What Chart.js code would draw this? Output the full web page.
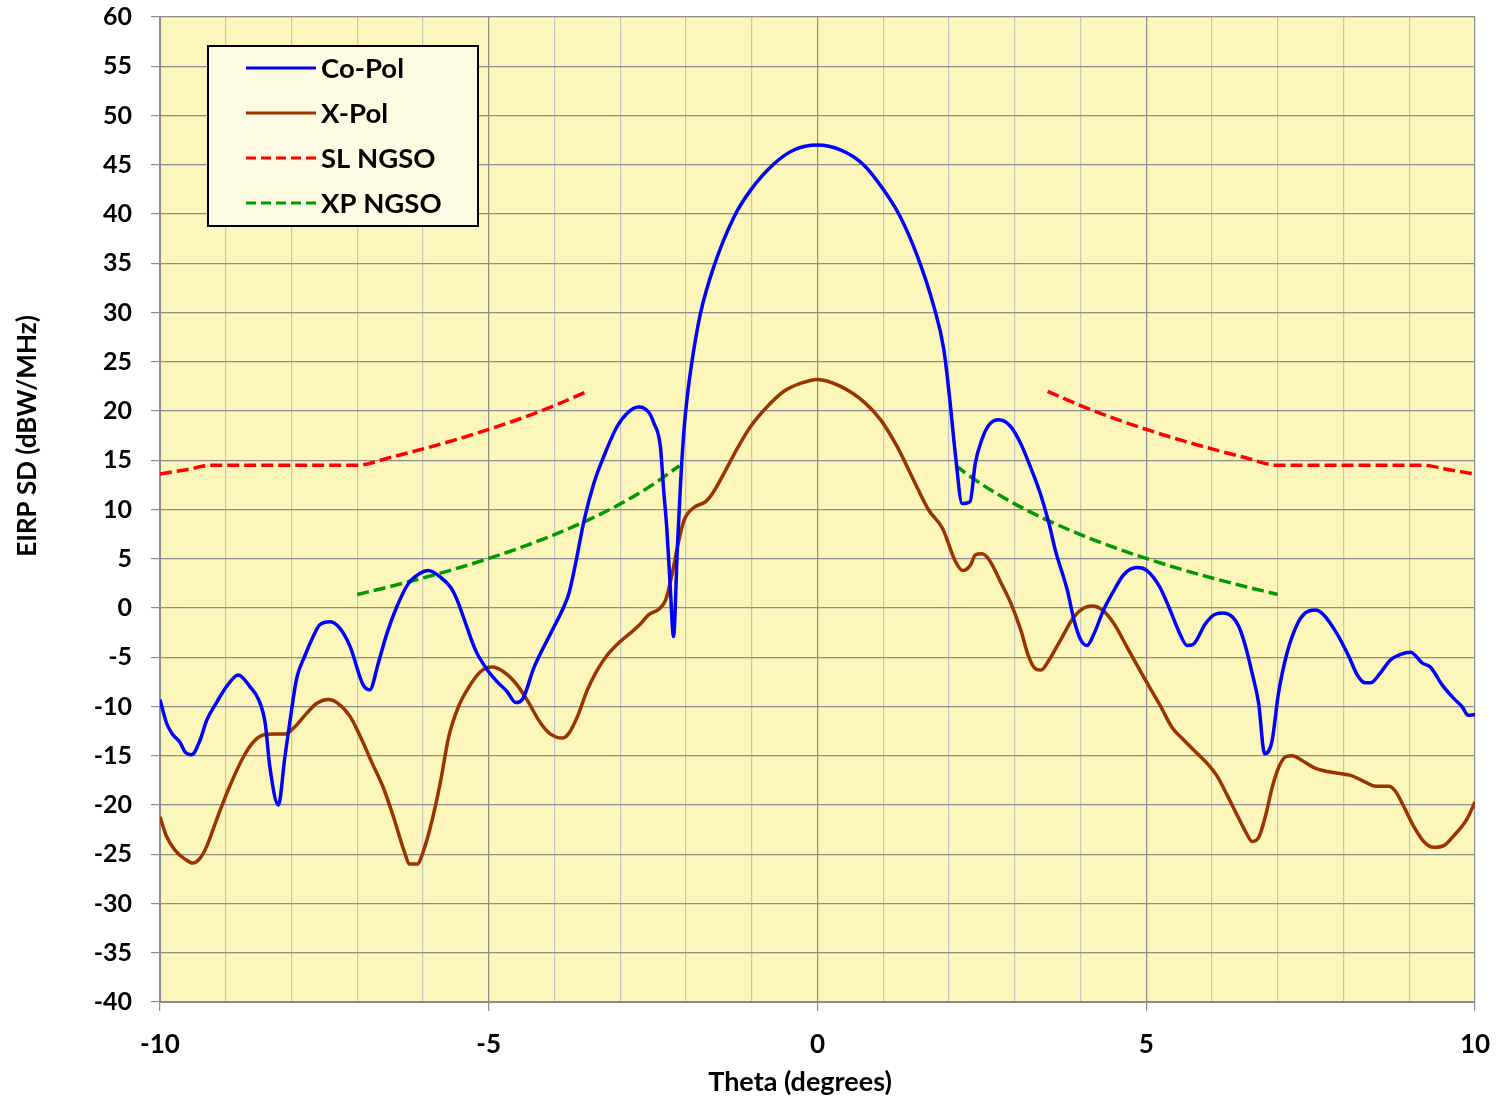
<!DOCTYPE html>
<html>
<head>
<meta charset="utf-8">
<script src="https://cdn.jsdelivr.net/npm/chart.js@4.4.1/dist/chart.umd.min.js"></script>
<style>
  html, body { margin: 0; padding: 0; background: #ffffff; }
  #wrap { width: 1498px; height: 1099px; position: relative; }
</style>
</head>
<body>
<div id="wrap"><canvas id="c" width="1498" height="1099"></canvas></div>
<script>
// ---- Data ----
const coPolTheta = [-10.0,-9.9,-9.8,-9.7,-9.62,-9.52,-9.39,-9.29,-9.14,-8.99,-8.81,-8.63,-8.5,-8.4,-8.33,-8.2,-8.1,-8.0,-7.92,-7.8,-7.67,-7.57,-7.41,-7.26,-7.11,-6.91,-6.81,-6.68,-6.55,-6.4,-6.22,-6.05,-5.92,-5.73,-5.58,-5.48,-5.35,-5.2,-5.02,-4.87,-4.72,-4.59,-4.49,-4.31,-4.06,-3.86,-3.78,-3.68,-3.55,-3.4,-3.25,-3.05,-2.89,-2.72,-2.57,-2.49,-2.39,-2.34,-2.29,-2.24,-2.19,-2.13,-2.08,-2.03,-1.98,-1.91,-1.78,-1.58,-1.27,-1.02,-0.66,-0.36,0,0.35,0.7,1.01,1.26,1.52,1.77,1.92,2.01,2.1,2.2,2.32,2.4,2.5,2.61,2.76,2.94,3.09,3.24,3.39,3.52,3.62,3.8,3.9,4.0,4.1,4.2,4.35,4.51,4.66,4.86,5.01,5.2,5.35,5.51,5.62,5.71,5.9,6.03,6.16,6.31,6.41,6.51,6.61,6.71,6.8,6.91,7.01,7.14,7.3,7.42,7.57,7.7,7.9,8.08,8.21,8.33,8.41,8.56,8.71,8.87,9.02,9.2,9.32,9.5,9.68,9.8,9.9,10.0];
const coPolValues = [-9.3,-11.7,-12.9,-13.6,-14.6,-14.9,-13.4,-11.4,-9.6,-8.0,-6.8,-8.0,-9.3,-11.7,-16.1,-20.0,-15.1,-10.4,-7.1,-4.9,-2.9,-1.7,-1.4,-2.1,-3.9,-7.8,-8.3,-5.6,-2.6,0.1,2.5,3.5,3.8,3.1,2.1,0.8,-1.6,-4.3,-6.3,-7.5,-8.5,-9.6,-9.3,-6.0,-2.6,0.1,1.5,4.5,8.9,12.7,15.4,18.4,19.8,20.4,19.9,18.8,16.4,12.0,7.9,2.2,-2.9,6.3,13.0,18.1,21.5,25.0,29.9,34.6,39.7,42.4,45.1,46.5,47.0,46.5,45.0,42.4,39.7,35.7,30.6,26.3,21.3,15.4,10.6,10.8,14.7,17.1,18.6,19.1,18.4,16.7,14.3,11.6,8.6,5.8,1.8,-1.2,-3.2,-3.8,-2.7,-0.2,1.8,3.4,4.1,3.8,2.2,0.0,-2.6,-3.8,-3.7,-1.6,-0.7,-0.5,-0.9,-1.9,-3.9,-6.6,-9.7,-14.8,-13.6,-8.7,-4.6,-1.6,-0.5,-0.2,-0.7,-2.6,-4.9,-6.8,-7.6,-7.6,-6.6,-5.3,-4.7,-4.5,-5.6,-6.0,-7.8,-9.2,-10.0,-10.9,-10.8];

const xPolTheta = [-10.0,-9.9,-9.77,-9.62,-9.5,-9.39,-9.29,-9.14,-8.94,-8.73,-8.58,-8.43,-8.25,-8.1,-7.97,-7.77,-7.62,-7.44,-7.29,-7.11,-6.95,-6.77,-6.6,-6.45,-6.29,-6.2,-6.09,-5.99,-5.86,-5.73,-5.61,-5.46,-5.3,-5.13,-4.95,-4.77,-4.57,-4.42,-4.21,-4.06,-3.88,-3.78,-3.65,-3.5,-3.35,-3.2,-3.0,-2.82,-2.69,-2.57,-2.41,-2.31,-2.21,-2.13,-2.03,-1.88,-1.7,-1.58,-1.42,-1.22,-1.02,-0.77,-0.51,-0.26,0,0.35,0.71,0.96,1.21,1.46,1.69,1.9,2.1,2.21,2.33,2.4,2.5,2.61,2.78,2.94,3.09,3.21,3.32,3.4,3.52,3.7,3.9,4.05,4.18,4.33,4.51,4.71,4.96,5.22,5.39,5.57,5.78,5.93,6.08,6.23,6.38,6.51,6.61,6.71,6.81,6.92,7.02,7.12,7.22,7.35,7.55,7.75,7.95,8.11,8.31,8.49,8.69,8.79,8.92,9.07,9.22,9.37,9.53,9.68,9.88,10.0];
const xPolValues = [-21.2,-23.2,-24.6,-25.5,-25.9,-25.4,-24.2,-21.5,-18.1,-15.1,-13.6,-12.9,-12.8,-12.8,-12.2,-10.7,-9.7,-9.3,-9.7,-11.0,-13.1,-15.8,-18.3,-21.2,-24.6,-26.0,-26.0,-24.6,-21.5,-17.5,-13.1,-10.0,-8.0,-6.5,-6.0,-6.5,-7.8,-9.3,-11.7,-12.8,-13.2,-12.7,-11.0,-8.3,-6.3,-4.8,-3.4,-2.4,-1.6,-0.7,-0.1,0.8,3.5,6.2,8.9,10.2,10.8,11.8,13.7,16.2,18.4,20.4,22.0,22.8,23.2,22.5,20.9,19.1,16.4,13.0,9.95,8.1,4.7,3.8,4.4,5.4,5.5,4.9,2.7,0.5,-2.2,-4.9,-6.2,-6.3,-5.3,-3.2,-0.9,0.0,0.2,-0.2,-1.6,-4.0,-7.0,-10.0,-12.1,-13.4,-14.8,-15.8,-17.1,-19.0,-21.0,-22.7,-23.7,-23.3,-21.2,-18.1,-16.1,-15.1,-15.0,-15.4,-16.2,-16.6,-16.8,-17.0,-17.6,-18.1,-18.1,-18.6,-20.2,-22.2,-23.7,-24.3,-24.1,-23.1,-21.4,-19.7];

const slTheta  = [-10.0,-9.6,-9.2,-8.0,-7.0,-6.5,-6.0,-5.5,-5.0,-4.5,-4.0,-3.5,0,3.5,4.0,4.5,5.0,5.5,6.0,6.5,7.0,8.0,9.2,9.6,10.0];
const slValues = [13.6,14.04,14.5,14.5,14.5,15.28,16.15,17.09,18.13,19.27,20.55,22.0,null,22.0,20.55,19.27,18.13,17.09,16.15,15.28,14.5,14.5,14.5,14.04,13.6];

const xpTheta  = [-7.0,-6.5,-6.0,-5.5,-5.0,-4.5,-4.0,-3.5,-3.0,-2.5,-2.1,0,2.1,2.5,3.0,3.5,4.0,4.5,5.0,5.5,6.0,6.5,7.0];
const xpValues = [1.37,2.18,3.05,3.99,5.03,6.17,7.45,8.9,10.57,12.55,14.44,null,14.44,12.55,10.57,8.9,7.45,6.17,5.03,3.99,3.05,2.18,1.37];

const seriesNames = ['Co-Pol','X-Pol','SL NGSO','XP NGSO'];
const xTickLabels = [-10,-5,0,5,10];
const yTickLabels = [-40,-35,-30,-25,-20,-15,-10,-5,0,5,10,15,20,25,30,35,40,45,50,55,60];
const xAxisTitle = 'Theta (degrees)';
const yAxisTitle = 'EIRP SD (dBW/MHz)';

function pts(xs, ys){ return xs.map((x,i)=>({x:x, y:ys[i]})); }

const FONT = 'Lato, "Open Sans", sans-serif';

const bgPlugin = {
  id: 'plotBg',
  beforeDraw(chart){
    const {ctx, chartArea:a} = chart;
    ctx.save();
    ctx.fillStyle = '#fdf6bb';
    ctx.fillRect(a.left, a.top, a.right-a.left, a.bottom-a.top);
    ctx.restore();
  }
};

const titlePlugin = {
  id: 'axisTitles',
  afterDraw(chart){
    const ctx = chart.ctx;
    ctx.save();
    ctx.fillStyle = '#000000';
    ctx.textAlign = 'center';
    ctx.textBaseline = 'middle';
    ctx.font = 'bold 27px ' + FONT;
    ctx.fillText(xAxisTitle, 800, 1082);
    ctx.translate(28, 436);
    ctx.rotate(-Math.PI/2);
    ctx.font = 'bold 26px ' + FONT;
    ctx.fillText(yAxisTitle, 0, 0);
    ctx.restore();
  }
};

const legendPlugin = {
  id: 'boxLegend',
  afterDatasetsDraw(chart){
    const ctx = chart.ctx;
    const x0 = 208, y0 = 46, w = 270, h = 180;
    ctx.save();
    ctx.fillStyle = '#fdfbe1';
    ctx.fillRect(x0, y0, w, h);
    ctx.lineWidth = 2;
    ctx.strokeStyle = '#000000';
    ctx.strokeRect(x0, y0, w, h);
    const rowY = [68, 113, 158, 203];
    chart.data.datasets.forEach((ds, i) => {
      ctx.beginPath();
      ctx.lineWidth = 3;
      ctx.strokeStyle = ds.borderColor;
      ctx.setLineDash(ds.borderDash ? [10,5] : []);
      ctx.moveTo(246, rowY[i]);
      ctx.lineTo(316, rowY[i]);
      ctx.stroke();
      ctx.setLineDash([]);
      ctx.fillStyle = '#000000';
      ctx.font = 'bold 27.5px ' + FONT;
      ctx.textBaseline = 'middle';
      ctx.textAlign = 'left';
      ctx.fillText(ds.label, 321, rowY[i] + 1);
    });
    ctx.restore();
  }
};

new Chart(document.getElementById('c'), {
  type: 'line',
  data: {
    datasets: [
      { label: seriesNames[0], data: pts(coPolTheta, coPolValues), borderColor: '#0000ff', borderWidth: 3.5, pointRadius: 0, cubicInterpolationMode: 'monotone', fill: false },
      { label: seriesNames[1], data: pts(xPolTheta, xPolValues), borderColor: '#993300', borderWidth: 3.5, pointRadius: 0, cubicInterpolationMode: 'monotone', fill: false },
      { label: seriesNames[2], data: pts(slTheta, slValues), borderColor: '#ff0000', borderWidth: 3.5, borderDash: [12,5], pointRadius: 0, cubicInterpolationMode: 'monotone', spanGaps: false, fill: false },
      { label: seriesNames[3], data: pts(xpTheta, xpValues), borderColor: '#009900', borderWidth: 3.5, borderDash: [12,5], pointRadius: 0, cubicInterpolationMode: 'monotone', spanGaps: false, fill: false }
    ]
  },
  options: {
    responsive: false,
    animation: false,
    devicePixelRatio: 1,
    layout: { padding: { top: 17, right: 23, left: 0, bottom: 0 } },
    plugins: {
      legend: { display: false },
      tooltip: { enabled: false }
    },
    scales: {
      x: {
        type: 'linear',
        min: -10, max: 10,
        afterFit(s){ s.height = 97; s.paddingLeft = 0; s.paddingRight = 0; },
        ticks: {
          stepSize: 1, autoSkip: false, maxRotation: 0,
          padding: 18,
          color: '#000000',
          font: { family: FONT, size: 26, weight: 'bold' },
          callback(v){ return xTickLabels.includes(v) ? String(v) : ''; }
        },
        grid: {
          color(c){ return (c.tick && c.tick.value % 5 === 0) ? '#8c8c8c' : '#c4c4c4'; },
          tickColor(c){ return (c.tick && c.tick.value % 5 === 0) ? '#8c8c8c' : 'rgba(0,0,0,0)'; },
          tickLength: 9,
          lineWidth: 1.2
        },
        border: { color: '#8c8c8c', width: 2 },
        title: { display: false }
      },
      y: {
        type: 'linear',
        min: -40, max: 60,
        afterFit(s){ s.width = 160; s.paddingTop = 0; s.paddingBottom = 0; },
        ticks: {
          stepSize: 5, autoSkip: false,
          padding: 19,
          color: '#000000',
          font: { family: FONT, size: 25, weight: 'bold' },
          callback(v){ return yTickLabels.includes(v) ? String(v) : ''; }
        },
        grid: {
          color: '#8c8c8c',
          tickColor: '#8c8c8c',
          tickLength: 9,
          lineWidth: 1.2
        },
        border: { color: '#8c8c8c', width: 2 },
        title: { display: false }
      }
    }
  },
  plugins: [bgPlugin, legendPlugin, titlePlugin]
});
</script>
</body>
</html>
